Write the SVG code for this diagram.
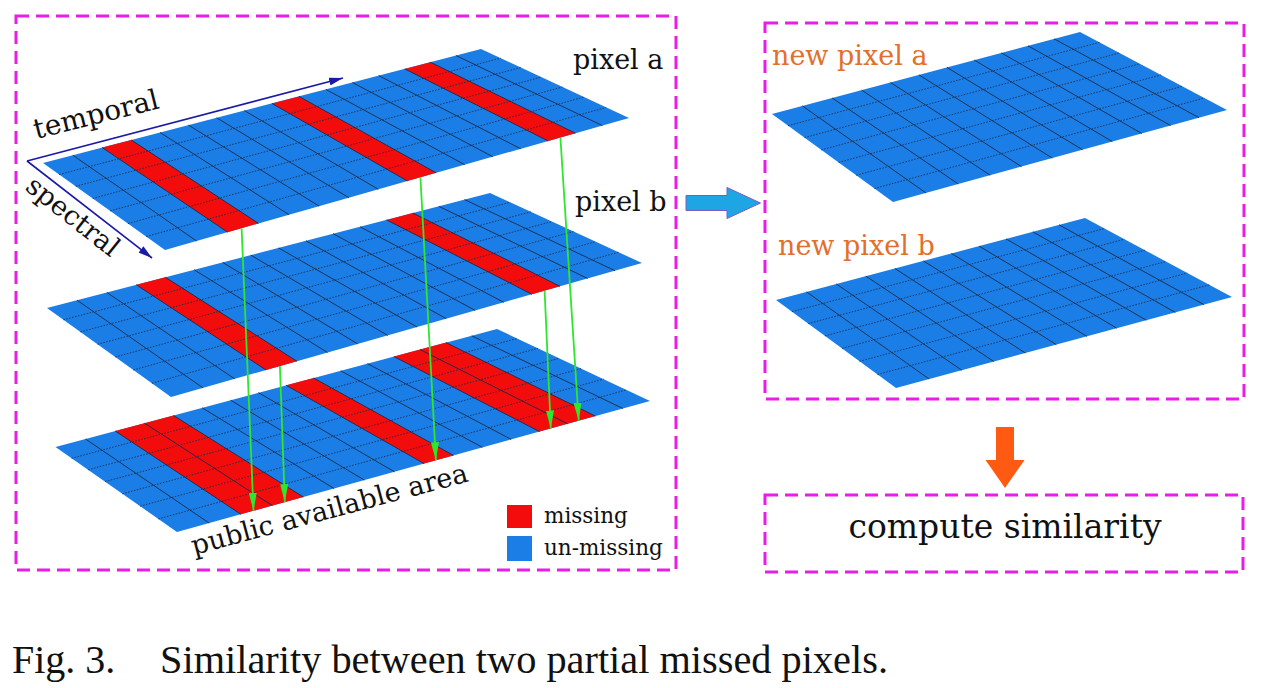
<svg xmlns="http://www.w3.org/2000/svg" width="1262" height="688" viewBox="0 0 1262 688">
<defs>
<style>
.plane{fill:#1b7ee6}
.miss{fill:#f30c0c}
.col{fill:none;stroke:#1a2a48;stroke-width:0.9}
.row{fill:none;stroke:#1a2a48;stroke-width:0.8;stroke-dasharray:1.6 1.4}
.box{fill:none;stroke:#e61ee6;stroke-width:3;stroke-dasharray:13 7}
.lbl{font-family:"DejaVu Serif",serif;fill:#111}
.new{font-family:"DejaVu Serif",serif;fill:#e2702a}
.axis{fill:none;stroke:#1a1aa6;stroke-width:1.6}
.green{fill:none;stroke:#2ee62e;stroke-width:1.8}
.cap{font-family:"Liberation Serif","Times New Roman",serif;fill:#111;font-size:40px}
</style>
<marker id="ah" viewBox="0 0 14 8" refX="14" refY="4" markerWidth="14" markerHeight="8" markerUnits="userSpaceOnUse" orient="auto"><path d="M0,0L14,4L0,8z" fill="#1a1aa6"/></marker>
<marker id="gh" viewBox="0 0 18 8" refX="18" refY="4" markerWidth="18" markerHeight="8" markerUnits="userSpaceOnUse" orient="auto"><path d="M0,0L18,4L0,8z" fill="#2ee62e"/></marker>
</defs>
<rect width="1262" height="688" fill="#fff"/>

<g id="boxes">
<rect class="box" x="16" y="16" width="660" height="554"/>
<rect class="box" x="765" y="23" width="479" height="376"/>
<rect class="box" x="765" y="495" width="478" height="77"/>
</g>

<g id="plane-a">
<polygon class="plane" points="43,163 481,49 629,118 165,250"/>
<polygon class="miss" points="102.2,147.6 131.3,140 258.5,223.4 227.7,232.2"/>
<polygon class="miss" points="271.9,103.4 299,96.4 436.2,172.8 407.4,181"/>
<polygon class="miss" points="404.7,68.9 430.4,62.2 575.4,133.2 548.2,141"/>
<path class="col" d="M72.8,155.2L196.6,241M102.2,147.6L227.7,232.2M131.3,140L258.5,223.4M160.1,132.5L289,214.7M188.5,125.1L319.1,206.1M216.6,117.8L348.9,197.7M244.4,110.6L378.3,189.3M271.9,103.4L407.4,181M299,96.4L436.2,172.8M325.9,89.4L464.7,164.7M352.4,82.5L492.8,156.7M378.7,75.6L520.7,148.8M404.7,68.9L548.2,141M430.4,62.2L575.4,133.2M455.9,55.5L602.4,125.6"/>
<path class="row" d="M59.2,174.5L500.6,58.1M75.7,186.3L520.7,67.5M92.7,198.4L541.3,77.1M110.1,210.9L562.4,87M127.9,223.6L584,97M146.2,236.6L606.2,107.4"/>
</g>

<g id="plane-b">
<polygon class="plane" points="47,308 490,193 642,263 171,397"/>
<polygon class="miss" points="136.3,284.8 165.4,277.3 296.9,361.2 266,370"/>
<polygon class="miss" points="386.6,219.9 412.8,213 560,286.3 532,294.3"/>
<path class="col" d="M77.1,300.2L203,387.9M106.9,292.5L234.7,378.9M136.3,284.8L266,370M165.4,277.3L296.9,361.2M194.2,269.8L327.5,352.5M222.6,262.4L357.7,343.9M250.7,255.1L387.6,335.4M278.5,247.9L417.1,327M305.9,240.8L446.3,318.7M333.1,233.7L475.2,310.4M360,226.8L503.8,302.3M386.6,219.9L532,294.3M412.8,213L560,286.3M438.8,206.3L587.6,278.5M464.6,199.6L615,270.7"/>
<path class="row" d="M63.4,319.8L510.1,202.3M80.3,331.9L530.8,211.8M97.5,344.3L551.9,221.5M115.2,357L573.6,231.5M133.3,370L595.8,241.7M151.9,383.3L618.6,252.2"/>
</g>

<g id="plane-public">
<polygon class="plane" points="55.5,447 497,329 650,401 177,532"/>
<polygon class="miss" points="115.2,431 173.5,415.5 303.4,497 240.9,514.3"/>
<polygon class="miss" points="286.2,385.3 313.6,378 453.5,455.4 424.1,463.6"/>
<polygon class="miss" points="393.9,356.6 446,342.6 595.4,416.1 539.6,431.6"/>
<path class="col" d="M85.5,439L209.2,523.1M115.2,431L240.9,514.3M144.5,423.2L272.4,505.6M173.5,415.5L303.4,497M202.2,407.8L334.1,488.5M230.5,400.2L364.4,480.1M258.5,392.7L394.5,471.8M286.2,385.3L424.1,463.6M313.6,378L453.5,455.4M340.7,370.8L482.5,447.4M367.4,363.6L511.2,439.4M393.9,356.6L539.6,431.6M420.1,349.6L567.6,423.8M446,342.6L595.4,416.1M471.7,335.8L622.9,408.5"/>
<path class="row" d="M71.6,458.3L517.3,338.5M88.1,469.8L538,348.3M105,481.6L559.3,358.3M122.3,493.8L581.2,368.6M140.1,506.2L603.5,379.1M158.3,518.9L626.5,389.9"/>
</g>

<g id="plane-new-a">
<polygon class="plane" points="772,114 1080,32 1227,110 893,202"/>
<path class="col" d="M802.4,105.9L925.9,192.9M832.2,98L958.3,184M861.6,90.1L990.2,175.2M890.5,82.5L1021.5,166.6M918.9,74.9L1052.3,158.1M946.9,67.4L1082.6,149.8M974.3,60.1L1112.4,141.6M1001.4,52.9L1141.8,133.5M1028,45.8L1170.6,125.5M1054.2,38.9L1199,117.7"/>
<path class="row" d="M788,125.7L1099.5,42.3M804.5,137.6L1119.4,52.9M821.3,149.9L1139.9,63.8M838.6,162.4L1160.9,74.9M856.2,175.3L1182.3,86.3M874.4,188.5L1204.4,98"/>
</g>

<g id="plane-new-b">
<polygon class="plane" points="776,300 1085,218 1232,297 896,388"/>
<path class="col" d="M806.5,291.9L929.1,379M836.4,284L961.7,370.2M865.9,276.1L993.8,361.5M894.9,268.5L1025.3,353M923.4,260.9L1056.3,344.6M951.4,253.4L1086.7,336.3M979,246.1L1116.7,328.2M1006.1,238.9L1146.3,320.2M1032.8,231.8L1175.3,312.4M1059.1,224.9L1203.9,304.6"/>
<path class="row" d="M791.9,311.7L1104.5,228.5M808.2,323.6L1124.4,239.2M824.9,335.9L1144.9,250.2M842,348.4L1165.9,261.5M859.5,361.3L1187.3,273M877.5,374.5L1209.4,284.8"/>
</g>

<g id="axes">
<path class="axis" d="M27,161L343,78" marker-end="url(#ah)"/>
<path class="axis" d="M27,161L152,258" marker-end="url(#ah)"/>
<text class="lbl" font-size="28" transform="translate(36,139) rotate(-14)">temporal</text>
<text class="lbl" font-size="27" transform="translate(24,189) rotate(38.5)">spectral</text>
</g>

<g id="connectors">
<path class="green" d="M241.6,228.2L253.5,510.8" marker-end="url(#gh)"/>
<path class="green" d="M279.9,366L284.8,502.2" marker-end="url(#gh)"/>
<path class="green" d="M420.4,177.3L435.9,460.3" marker-end="url(#gh)"/>
<path class="green" d="M544.6,290.7L550.8,428.5" marker-end="url(#gh)"/>
<path class="green" d="M560.4,137.5L578.7,420.7" marker-end="url(#gh)"/>
<polygon points="686,195.5 727,195.5 727,187.5 760.5,203 727,218.5 727,210.5 686,210.5" fill="#1ea6e4" stroke="#7a5cc6" stroke-width="1"/>
<polygon points="996,427 1014,427 1014,460 1024.5,460 1005,488 985.5,460 996,460" fill="#ff5a12"/>
</g>

<g id="labels">
<text class="lbl" font-size="27" x="573" y="69">pixel a</text>
<text class="lbl" font-size="27" x="575" y="211">pixel b</text>
<text class="lbl" font-size="27" transform="translate(194,555) rotate(-15)">public available area</text>
<text class="new" font-size="27" x="772" y="65">new pixel a</text>
<text class="new" font-size="27" x="778" y="255">new pixel b</text>
</g>

<g id="legend">
<rect x="507" y="505" width="25" height="23" fill="#f30c0c"/>
<rect x="507" y="536" width="25" height="25" fill="#1b7ee6"/>
<text class="lbl" font-size="21.5" x="544" y="523">missing</text>
<text class="lbl" font-size="21.5" x="544" y="555">un-missing</text>
</g>

<g id="node-compute">
<text class="lbl" font-size="33" x="1005" y="538" text-anchor="middle">compute similarity</text>
</g>

<g id="caption">
<text class="cap" x="12" y="673">Fig. 3.</text>
<text class="cap" x="160" y="673" textLength="728" lengthAdjust="spacingAndGlyphs">Similarity between two partial missed pixels.</text>
</g>
</svg>
